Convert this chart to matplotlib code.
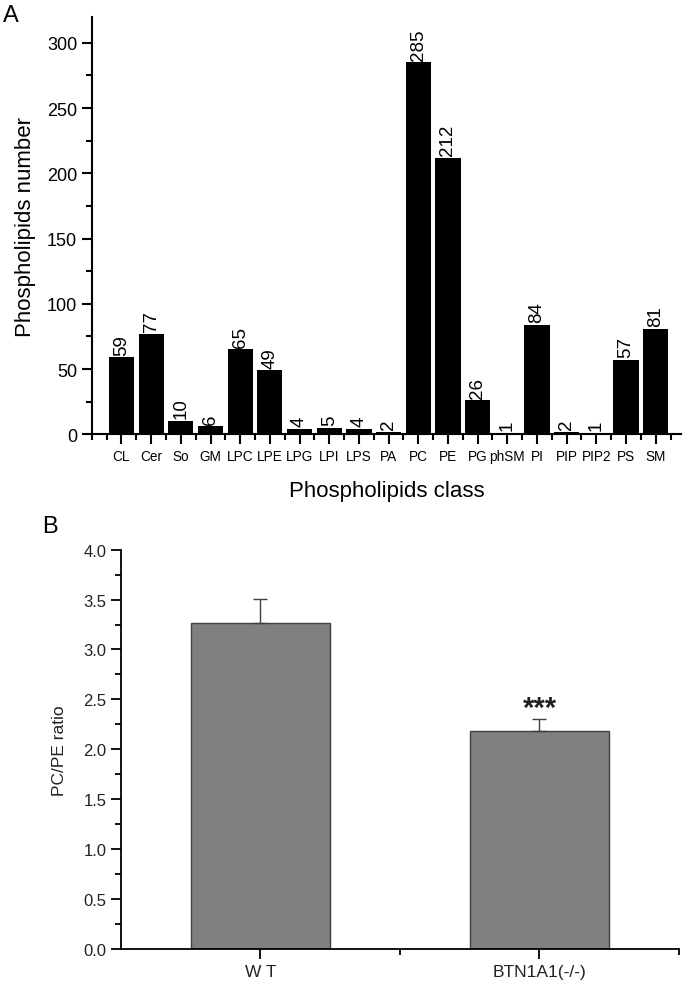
import numpy as np
import matplotlib
matplotlib.use('agg')
import matplotlib.pyplot as plt
from matplotlib.ticker import MultipleLocator, FormatStrFormatter

plt.rcParams['font.family'] = ['Liberation Sans', 'DejaVu Sans']

# panel A data
classes = ['CL', 'Cer', 'So', 'GM', 'LPC', 'LPE', 'LPG', 'LPI', 'LPS', 'PA',
           'PC', 'PE', 'PG', 'phSM', 'PI', 'PIP', 'PIP2', 'PS', 'SM']
counts = [59, 77, 10, 6, 65, 49, 4, 5, 4, 2, 285, 212, 26, 1, 84, 2, 1, 57, 81]

# panel B data
groups = ['W T', 'BTN1A1(-/-)']
ratio = [3.27, 2.18]
ratio_err = [0.24, 0.12]


def style_axes(ax, lw):
    for s in ['top', 'right']:
        ax.spines[s].set_visible(False)
    for s in ['left', 'bottom']:
        ax.spines[s].set_linewidth(lw)
    ax.tick_params(which='major', direction='out', length=7, width=lw)
    ax.tick_params(which='minor', direction='out', length=4, width=lw)


fig = plt.figure(figsize=(6.85, 9.87), dpi=100)

# ---- panel A ----
ax1 = fig.add_axes([0.134, 0.559, 0.86, 0.423])
x = np.arange(len(classes))
ax1.bar(x, counts, width=0.85, color='black')
for i in range(len(classes)):
    ax1.annotate(str(counts[i]), (x[i], counts[i]), xytext=(0, 2),
                 textcoords='offset points', rotation=90, ha='center',
                 va='bottom', fontsize=13.5)
ax1.set_xlim(-1, 18.85)
ax1.set_ylim(0, 320)
ax1.set_xticks(x)
ax1.set_xticklabels(classes, fontsize=9.8)
ax1.xaxis.set_minor_locator(MultipleLocator(0.5))
ax1.yaxis.set_major_locator(MultipleLocator(50))
ax1.yaxis.set_minor_locator(MultipleLocator(25))
ax1.tick_params(axis='y', labelsize=13)
ax1.set_xlabel('Phospholipids class', fontsize=16, labelpad=12)
ax1.set_ylabel('Phospholipids number', fontsize=16, labelpad=8)
style_axes(ax1, 1.5)

# ---- panel B ----
ax2 = fig.add_axes([0.1766, 0.0375, 0.8146, 0.4046])
xb = np.arange(len(groups))
ax2.bar(xb, ratio, width=0.5, color='#808080', edgecolor='#404040',
        linewidth=1.0)
ax2.errorbar(xb, ratio, yerr=[[0, 0], ratio_err], fmt='none',
             ecolor='#404040', elinewidth=1.0, capsize=5, capthick=1.0)
ax2.text(xb[1], ratio[1] + ratio_err[1] + 0.11, '***', ha='center',
         va='center', fontsize=21, fontweight='bold', color='#222222')
ax2.set_xlim(-0.5, 1.5)
ax2.set_ylim(0, 4.0)
ax2.set_xticks(xb)
ax2.set_xticklabels(groups, fontsize=12.5, color='#222222')
ax2.set_xticks([0.5, 1.5], minor=True)
ax2.yaxis.set_major_locator(MultipleLocator(0.5))
ax2.yaxis.set_minor_locator(MultipleLocator(0.25))
ax2.yaxis.set_major_formatter(FormatStrFormatter('%.1f'))
ax2.tick_params(axis='y', labelsize=12, labelcolor='#222222')
ax2.set_ylabel('PC/PE ratio', fontsize=12.5, labelpad=12, color='#222222')
style_axes(ax2, 1.3)
for sp in ax2.spines.values():
    sp.set_clip_on(False)

fig.text(0.005, 0.984, 'A', fontsize=17, va='center')
fig.text(0.062, 0.466, 'B', fontsize=17, va='center')

fig.savefig('out.png', dpi=100)
